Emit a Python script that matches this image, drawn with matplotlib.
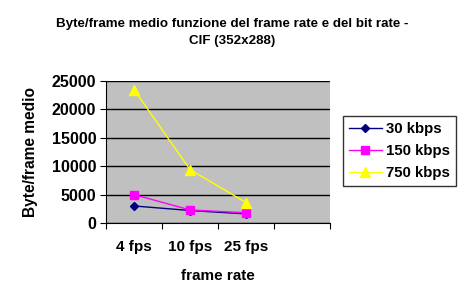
import matplotlib
matplotlib.use("Agg")
import matplotlib.pyplot as plt

# data
categories = ["4 fps", "10 fps", "25 fps", ""]
kbps_30 = [3000, 2200, 1600]
kbps_150 = [5000, 2300, 1800]
kbps_750 = [23500, 9400, 3600]
series_names = ["30 kbps", "150 kbps", "750 kbps"]

plt.rcParams['font.family'] = ['Liberation Sans', 'DejaVu Sans']
plt.rcParams['font.weight'] = 'bold'

fig = plt.figure(figsize=(4.64, 3.07), dpi=100)
ax = fig.add_axes([106 / 464, 1 - 223 / 307, 224 / 464, 142 / 307])
ax.set_facecolor('#C0C0C0')

x = range(len(kbps_30))
ax.plot(x, kbps_30, color='#000080', marker='D', markersize=4, lw=1, label=series_names[0])
ax.plot(x, kbps_150, color='#FF00FF', marker='s', markersize=6, lw=1, label=series_names[1])
ax.plot(x, kbps_750, color='#FFFF00', marker='^', markersize=7, lw=1, label=series_names[2])

ax.set_xlim(-0.5, len(categories) - 0.5)
ax.set_ylim(0, 25000)
ax.set_yticks(range(0, 25001, 5000))
ax.yaxis.grid(True, color='black', lw=1)
ax.set_axisbelow(True)

# category boundaries as major ticks, labels centred on minor ticks
ax.set_xticks([i + 0.5 for i in range(-1, len(categories))])
ax.set_xticklabels([])
ax.set_xticks(range(len(categories)), minor=True)
ax.set_xticklabels(categories, minor=True, fontsize=11, fontweight='bold')
ax.tick_params(axis='x', which='major', direction='out', length=4, color='black')
ax.tick_params(axis='x', which='minor', length=0, pad=12)
ax.tick_params(axis='y', direction='out', length=4, labelsize=11.5, pad=3)

for s in ['top', 'right']:
    ax.spines[s].set_visible(False)
ax.spines['left'].set_color('black')
ax.spines['bottom'].set_color('black')

ax.set_xlabel('frame rate', fontsize=11, fontweight='bold', labelpad=11)
ax.set_ylabel('Byte/frame medio', fontsize=11.2, fontweight='bold', labelpad=10)

fig.text(232 / 464, 1 - 24 / 307, 'Byte/frame medio funzione del frame rate e del bit rate -',
         ha='center', va='center', fontsize=9.6, fontweight='bold')
fig.text(232 / 464, 1 - 41 / 307, 'CIF (352x288)', ha='center', va='center',
         fontsize=9.6, fontweight='bold')

leg = fig.legend(loc='upper left', bbox_to_anchor=(343 / 464, 1 - 116 / 307),
                 fontsize=10.8, frameon=True, fancybox=False, handlelength=2.2,
                 borderpad=0.4, labelspacing=0.55, handletextpad=0.3, borderaxespad=0)
leg.get_frame().set_edgecolor('black')
leg.get_frame().set_linewidth(1)

fig.savefig('out.png', dpi=100)
